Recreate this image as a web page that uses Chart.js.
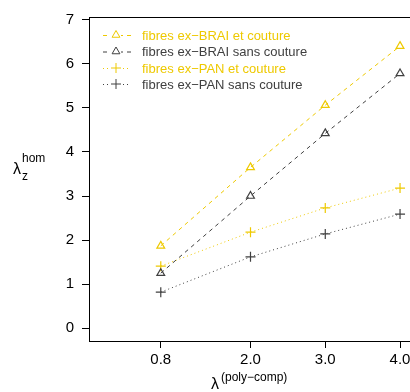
<!DOCTYPE html>
<html>
<head>
<meta charset="utf-8">
<script src="https://cdn.jsdelivr.net/npm/chart.js@4"></script>
<style>
  html, body { margin: 0; padding: 0; background: #fff; overflow: hidden; }
  #wrap { width: 414px; height: 392px; position: relative; }
</style>
</head>
<body>
<div id="wrap"><canvas id="line-chart"></canvas></div>
<script>
// x positions (lambda poly-comp) and tick labels
var xValues = [0.8, 2.0, 3.0, 4.0];
var xTicks = [0.8, 2.0, 3.0, 4.0];
var yTicks = [0, 1, 2, 3, 4, 5, 6, 7];

var seriesNames = [
  "fibres ex\u2212BRAI et couture",
  "fibres ex\u2212BRAI sans couture",
  "fibres ex\u2212PAN et couture",
  "fibres ex\u2212PAN sans couture"
];
var braiCouture = [1.87, 3.65, 5.06, 6.40];
var braiSans = [1.25, 3.00, 4.42, 5.78];
var panCouture = [1.41, 2.18, 2.73, 3.18];
var panSans = [0.82, 1.62, 2.14, 2.59];

var yellow = '#EEC900';
var grey = '#404040';
var FONT = "'Liberation Sans', Arial, sans-serif";

function pts(vals) {
  var out = [];
  for (let i = 0; i < xValues.length; i++) {
    out.push({x: xValues[i], y: vals[i]});
  }
  return out;
}

function ds(label, vals, color, dash, style, radius) {
  return {
    label: label,
    data: pts(vals),
    borderColor: color,
    borderWidth: 1,
    borderDash: dash,
    pointStyle: style,
    pointRadius: radius,
    pointBorderColor: color,
    pointBackgroundColor: 'rgba(0,0,0,0)',
    pointBorderWidth: 1.2,
    fill: false,
    tension: 0
  };
}

// frame, axis titles and legend drawn by hand
var extras = {
  id: 'extras',
  afterDraw: function(chart) {
    var ctx = chart.ctx;
    var a = chart.chartArea;
    ctx.save();
    ctx.strokeStyle = '#000';
    ctx.lineWidth = 1;
    ctx.strokeRect(Math.round(a.left) + 0.5, Math.round(a.top) + 0.5,
                   Math.round(a.right - a.left), Math.round(a.bottom - a.top));

    // y title
    ctx.fillStyle = '#000';
    ctx.textAlign = 'left';
    ctx.textBaseline = 'alphabetic';
    ctx.font = '16px ' + FONT;
    ctx.fillText('\u03bb', 13, 174);
    ctx.font = '12px ' + FONT;
    ctx.fillText('hom', 22, 162);
    ctx.fillText('z', 22, 180);

    // x title
    ctx.font = '16px ' + FONT;
    ctx.fillText('\u03bb', 211, 389);
    ctx.font = '12px ' + FONT;
    ctx.fillText('(poly\u2212comp)', 221, 381);

    // legend
    var rows = [35, 51.5, 68, 84];
    chart.data.datasets.forEach(function(d, i) {
      var y = rows[i];
      ctx.strokeStyle = d.borderColor;
      ctx.lineWidth = 1;
      ctx.setLineDash(d.borderDash);
      ctx.beginPath();
      ctx.moveTo(103, y + 0.5);
      ctx.lineTo(131, y + 0.5);
      ctx.stroke();
      ctx.setLineDash([]);
      ctx.fillStyle = '#fff';
      ctx.fillRect(111, y - 6, 10, 12);
      Chart.helpers.drawPoint(ctx, {
        pointStyle: d.pointStyle, radius: d.pointRadius, rotation: 0, borderWidth: 1.2
      }, 116, y);
      ctx.fillStyle = d.borderColor;
      ctx.font = '13px ' + FONT;
      ctx.textBaseline = 'middle';
      ctx.fillText(d.label, 142, y + 1);
    });
    ctx.restore();
  }
};

new Chart(document.getElementById("line-chart"), {
  type: 'line',
  data: {
    datasets: [
      ds(seriesNames[0], braiCouture, yellow, [4, 4], 'triangle', 4.5),
      ds(seriesNames[1], braiSans, grey, [4, 4], 'triangle', 4.5),
      ds(seriesNames[2], panCouture, yellow, [1, 3], 'cross', 5),
      ds(seriesNames[3], panSans, grey, [1, 3], 'cross', 5)
    ]
  },
  plugins: [extras],
  options: {
    responsive: true,
    maintainAspectRatio: false,
    animation: false,
    layout: { autoPadding: false, padding: { left: 0, top: 17, right: 2, bottom: 0 } },
    plugins: {
      legend: { display: false },
      tooltip: { enabled: false }
    },
    scales: {
      x: {
        type: 'linear',
        min: -0.16,
        max: 4.16,
        afterBuildTicks: function(scale) {
          scale.ticks = xTicks.map(function(v) { return {value: v}; });
        },
        afterFit: function(scale) {
          scale.height = 51;
          scale.paddingLeft = 0;
          scale.paddingRight = 0;
        },
        grid: {
          drawOnChartArea: false,
          drawTicks: true,
          tickLength: 7,
          color: '#000'
        },
        border: { display: false },
        ticks: {
          color: '#000',
          padding: 3,
          maxRotation: 0,
          font: { family: FONT, size: 15 },
          callback: function(v) { return Number(v).toFixed(1); }
        }
      },
      y: {
        min: -0.288,
        max: 7.06,
        afterBuildTicks: function(scale) {
          scale.ticks = yTicks.map(function(v) { return {value: v}; });
        },
        afterFit: function(scale) {
          scale.width = 89;
          scale.paddingTop = 0;
          scale.paddingBottom = 0;
        },
        grid: {
          drawOnChartArea: false,
          drawTicks: true,
          tickLength: 7,
          color: '#000'
        },
        border: { display: false },
        ticks: {
          color: '#000',
          padding: 8,
          font: { family: FONT, size: 15 },
          callback: function(v) { return String(v); }
        }
      }
    }
  }
});
</script>
</body>
</html>
